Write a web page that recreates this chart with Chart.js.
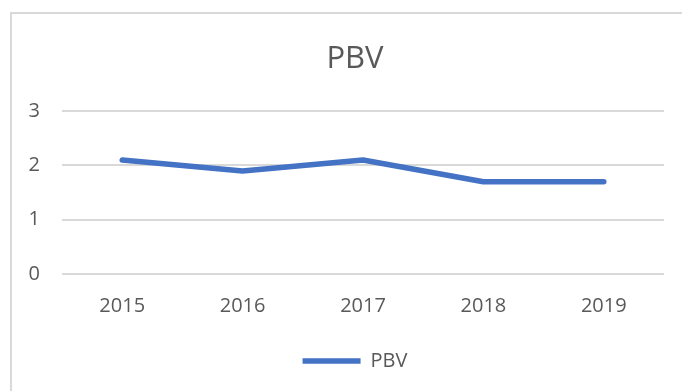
<!DOCTYPE html>
<html lang="en">
<head>
    <meta charset="UTF-8">
    <title>PBV</title>
    <script src="https://cdn.jsdelivr.net/npm/chart.js"></script>
    <style>
        html, body {
            margin: 0;
            padding: 0;
            background: #ffffff;
            overflow: hidden;
            width: 682px;
            height: 391px;
        }

        .chart-box {
            position: absolute;
            left: 10px;
            top: 12px;
            width: 686px;
            height: 400px;
            border: 2px solid #d9d9d9;
            background: #ffffff;
        }
    </style>
</head>
<body>
<div class="chart-box">
    <canvas id="pbvChart" width="686" height="400"></canvas>
</div>

<script>
    // Chart data
    const years = ['2015', '2016', '2017', '2018', '2019'];
    const pbvValues = [2.1, 1.9, 2.1, 1.7, 1.7];
    const yTicks = [0, 1, 2, 3];

    const textColor = '#595959';
    const gridColor = '#d9d9d9';
    const lineColor = '#4472c4';
    const fontFamily = '"Open Sans", sans-serif';

    const ctx = document.getElementById('pbvChart').getContext('2d');
    new Chart(ctx, {
        type: 'line',
        data: {
            labels: years,
            datasets: [{
                label: 'PBV',
                data: pbvValues,
                borderColor: lineColor,
                backgroundColor: lineColor,
                borderWidth: 5.5,
                borderCapStyle: 'round',
                borderJoinStyle: 'round',
                pointRadius: 0,
                pointStyle: 'line',
                tension: 0,
                fill: false
            }]
        },
        options: {
            responsive: false,
            animation: false,
            layout: {
                padding: { left: 0, right: 0, top: 0, bottom: 33 }
            },
            plugins: {
                title: {
                    display: true,
                    text: 'PBV',
                    color: textColor,
                    font: { family: fontFamily, size: 31, weight: 'normal' },
                    padding: { top: 27, bottom: 33 }
                },
                legend: {
                    position: 'bottom',
                    labels: {
                        color: textColor,
                        font: { family: fontFamily, size: 20 },
                        usePointStyle: true,
                        pointStyleWidth: 58,
                        boxHeight: 20,
                        padding: 10
                    }
                },
                tooltip: { enabled: false }
            },
            scales: {
                x: {
                    offset: true,
                    grid: { display: false },
                    border: { display: false },
                    ticks: {
                        color: textColor,
                        font: { family: fontFamily, size: 20 },
                        padding: 12,
                        maxRotation: 0
                    },
                    afterFit: scale => { scale.height = 67; }
                },
                y: {
                    min: yTicks[0],
                    max: yTicks[yTicks.length - 1],
                    afterBuildTicks: scale => {
                        scale.ticks = yTicks.map(v => ({ value: v }));
                    },
                    grid: {
                        color: gridColor,
                        lineWidth: 2,
                        drawTicks: false
                    },
                    border: { display: false },
                    ticks: {
                        color: textColor,
                        font: { family: fontFamily, size: 20 },
                        padding: 22
                    },
                    afterFit: scale => { scale.width = 50; }
                },
                // empty right-hand margin beside the plot
                yRight: {
                    position: 'right',
                    grid: { display: false },
                    border: { display: false },
                    ticks: { display: false },
                    afterFit: scale => { scale.width = 34; }
                }
            }
        }
    });
</script>
</body>
</html>
